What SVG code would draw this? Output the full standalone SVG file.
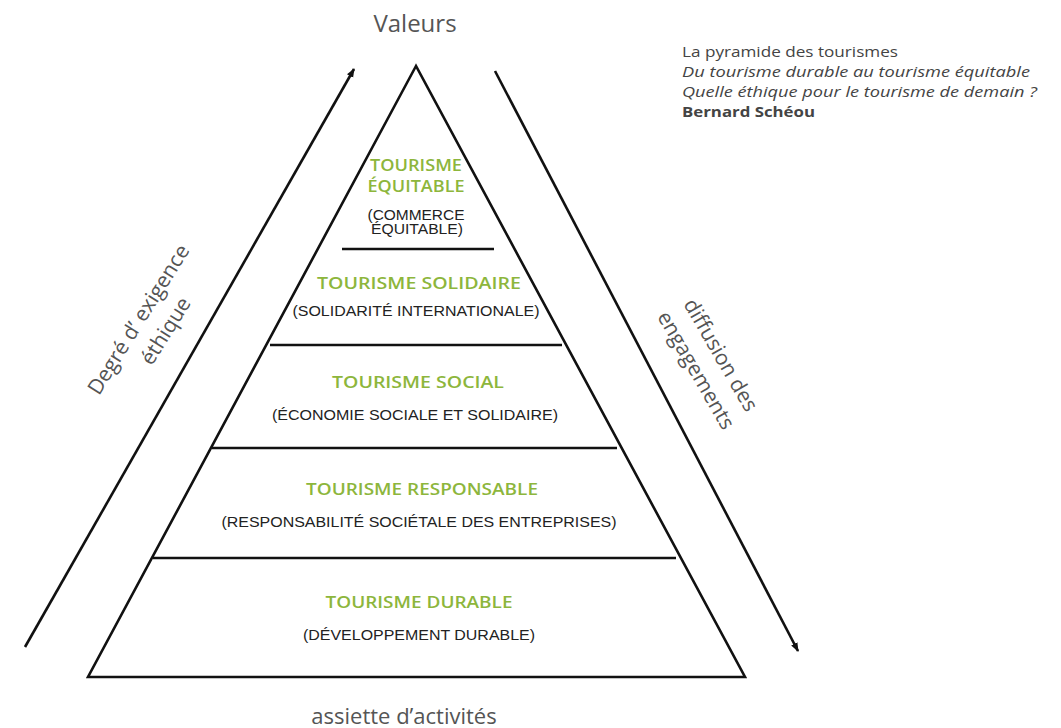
<svg xmlns="http://www.w3.org/2000/svg" width="1061" height="728" viewBox="0 0 1061 728">
<style>
.ln{stroke:#111;stroke-width:2.6;fill:none}
.gr{font-family:"Open Sans","Noto Sans",sans-serif;font-weight:600;fill:#8db63c;font-size:17px;text-anchor:middle}
.sub{font-family:"Liberation Sans",Arial,sans-serif;fill:#222;font-size:14px;text-anchor:middle}
.lab{font-family:"Open Sans","Noto Sans",sans-serif;fill:#555;text-anchor:middle}
.ref{font-family:"Open Sans","Noto Sans",sans-serif;fill:#444;font-size:14.5px}
</style>
<defs>
<marker id="ah" markerWidth="10" markerHeight="10" refX="8" refY="5" orient="auto" markerUnits="userSpaceOnUse">
<path d="M0,1.5 L9,5 L0,8.5 Z" fill="#111"/>
</marker>
</defs>
<rect width="1061" height="728" fill="#fff"/>

<g id="pyramid">
<path class="ln" d="M416,66 L88,677 L745,677 Z"/>
</g>

<g id="connectors">
<line class="ln" x1="25" y1="647" x2="354" y2="69" marker-end="url(#ah)"/>
<line class="ln" x1="495" y1="71" x2="798" y2="651" marker-end="url(#ah)"/>
<line class="ln" x1="342" y1="249" x2="494" y2="249"/>
<line class="ln" x1="270" y1="345" x2="562" y2="345"/>
<line class="ln" x1="212" y1="448" x2="617" y2="448"/>
<line class="ln" x1="153" y1="558" x2="676" y2="558"/>
</g>

<g id="valeurs"><text class="lab" x="415" y="32" font-size="24">Valeurs</text></g>
<g id="assiette"><text class="lab" x="404" y="724" font-size="22">assiette d’activités</text></g>

<g id="equitable">
<text class="gr" x="416" y="171" textLength="92" lengthAdjust="spacingAndGlyphs">TOURISME</text>
<text class="gr" x="416" y="192" textLength="97" lengthAdjust="spacingAndGlyphs">ÉQUITABLE</text>
<text class="sub" x="416" y="220" font-size="13.5" textLength="97" lengthAdjust="spacingAndGlyphs">(COMMERCE</text>
<text class="sub" x="417" y="234" font-size="13.5" textLength="92" lengthAdjust="spacingAndGlyphs">ÉQUITABLE)</text>
</g>
<g id="solidaire">
<text class="gr" x="419" y="289" textLength="204" lengthAdjust="spacingAndGlyphs">TOURISME SOLIDAIRE</text>
<text class="sub" x="416" y="316" textLength="247" lengthAdjust="spacingAndGlyphs">(SOLIDARITÉ INTERNATIONALE)</text>
</g>
<g id="social">
<text class="gr" x="418" y="388" textLength="172" lengthAdjust="spacingAndGlyphs">TOURISME SOCIAL</text>
<text class="sub" x="415" y="420" textLength="286" lengthAdjust="spacingAndGlyphs">(ÉCONOMIE SOCIALE ET SOLIDAIRE)</text>
</g>
<g id="responsable">
<text class="gr" x="422" y="495" textLength="232" lengthAdjust="spacingAndGlyphs">TOURISME RESPONSABLE</text>
<text class="sub" x="419" y="527" textLength="395" lengthAdjust="spacingAndGlyphs">(RESPONSABILITÉ SOCIÉTALE DES ENTREPRISES)</text>
</g>
<g id="durable">
<text class="gr" x="419" y="608" textLength="187" lengthAdjust="spacingAndGlyphs">TOURISME DURABLE</text>
<text class="sub" x="419" y="640" textLength="232" lengthAdjust="spacingAndGlyphs">(DÉVELOPPEMENT DURABLE)</text>
</g>

<g id="exigence">
<text class="lab" font-size="21" transform="translate(146,321) rotate(-58)">
<tspan x="0" y="0">Degré d’ exigence</tspan>
<tspan x="2" y="29">éthique</tspan>
</text>
</g>
<g id="diffusion">
<text class="lab" font-size="21" transform="translate(716,361) rotate(60)">
<tspan x="0" y="0">diffusion des</tspan>
<tspan x="-2" y="29">engagements</tspan>
</text>
</g>

<g id="reference">
<text class="ref" x="682" y="57" textLength="216" lengthAdjust="spacingAndGlyphs">La pyramide des tourismes</text>
<text class="ref" x="682" y="77" font-style="italic" textLength="348" lengthAdjust="spacingAndGlyphs">Du tourisme durable au tourisme équitable</text>
<text class="ref" x="682" y="97" font-style="italic" textLength="355" lengthAdjust="spacingAndGlyphs">Quelle éthique pour le tourisme de demain ?</text>
<text class="ref" x="682" y="117" font-weight="700" fill="#111" textLength="133" lengthAdjust="spacingAndGlyphs">Bernard Schéou</text>
</g>
</svg>
